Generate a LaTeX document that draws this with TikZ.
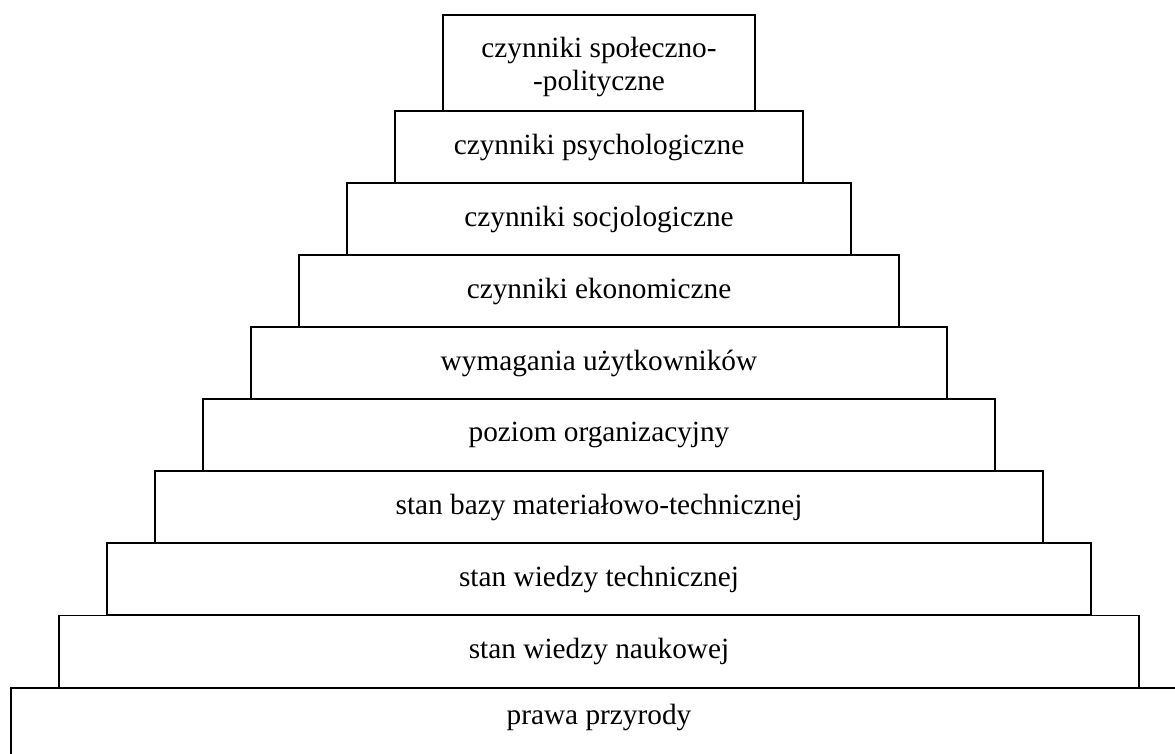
\documentclass[tikz,border=0pt]{standalone}
\usepackage{fontspec}
\setmainfont{Liberation Serif}
\tikzset{
  lvl/.style={draw=black, line width=1.3pt, inner sep=0pt, outer sep=0pt,
    align=center, font=\fontsize{29.3}{32.5}\selectfont},
  lbl/.style={inner sep=0pt, align=center, font=\fontsize{29.3}{32.5}\selectfont}
}
\begin{document}
\begin{tikzpicture}[x=1pt,y=-1pt]
\useasboundingbox (0,0) rectangle (1175,753);
\clip (0,0) rectangle (1175,753);
\fill[white] (0,0) rectangle (1175,753);
% bottom box extends past the frame
\node[lvl, minimum width=1176pt, minimum height=100pt] (b1) at (599,738) {};
\node[lbl] (t1) at (599,717) {prawa przyrody};
\node[lvl, minimum width=1080pt, minimum height=72.5pt] (b2) at (599,651.5) {stan wiedzy naukowej};
\node[lvl, minimum width=984pt, minimum height=72pt] (b3) at (599,579) {stan wiedzy technicznej};
\node[lvl, minimum width=888pt, minimum height=72pt] (b4) at (599,507) {stan bazy materiałowo-technicznej};
\node[lvl, minimum width=792pt, minimum height=72pt] (b5) at (599,435) {poziom organizacyjny};
\node[lvl, minimum width=696pt, minimum height=72pt] (b6) at (599,363) {wymagania użytkowników};
\node[lvl, minimum width=600pt, minimum height=72pt] (b7) at (599,291) {czynniki ekonomiczne};
\node[lvl, minimum width=504pt, minimum height=72pt] (b8) at (599,219) {czynniki socjologiczne};
\node[lvl, minimum width=408pt, minimum height=72pt] (b9) at (599,147) {czynniki psychologiczne};
\node[lvl, minimum width=312pt, minimum height=96pt] (b10) at (599,63) {};
\node[lbl] (t10) at (599,67) {czynniki społeczno-\\-polityczne};
\end{tikzpicture}
\end{document}
